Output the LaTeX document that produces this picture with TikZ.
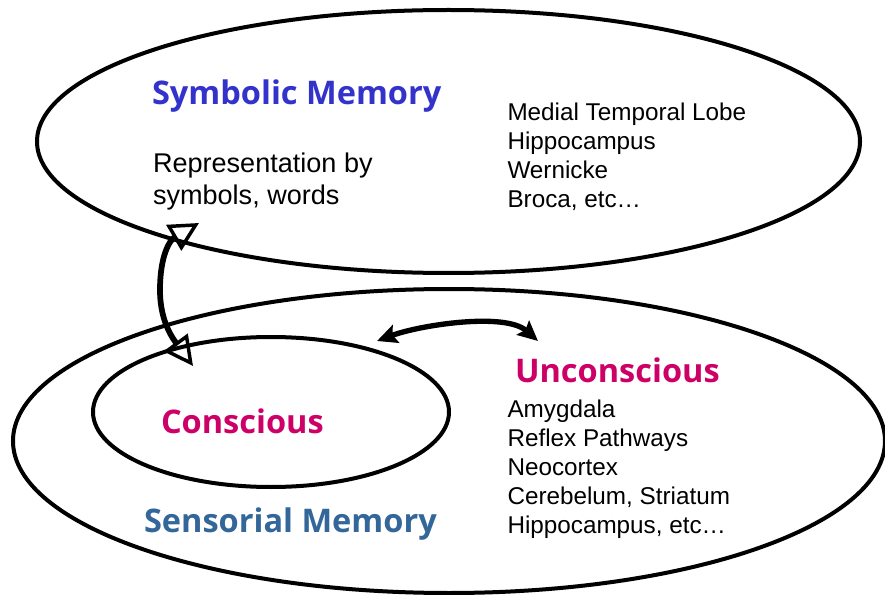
\documentclass[tikz,border=0pt]{standalone}
\usepackage{fontspec}
\setmainfont{Liberation Sans}
\newfontfamily\headfont{Open Sans}
\usepackage{xcolor}
\usetikzlibrary{arrows.meta}
\definecolor{symbblue}{HTML}{3333CC}
\definecolor{consred}{HTML}{CC0066}
\definecolor{sensblue}{HTML}{336699}
\tikzset{
	lista/.style={anchor=north west,inner sep=0pt,align=left,font=\fontsize{18.2}{21.75}\selectfont},
	titolo/.style={anchor=base west,inner sep=0pt,font=\headfont\bfseries\fontsize{24.4}{28}\selectfont},
	frecciaaperta/.style={line width=4.3pt,{Triangle[open,length=22pt 0,width=22pt 0,line width=2.6pt]}-{Triangle[open,length=22pt 0,width=22pt 0,line width=2.6pt]}},
	frecciapiena/.style={line width=4pt,{Stealth[length=15pt 0,width=14pt 0,inset=2.5pt]}-{Stealth[length=15pt 0,width=14pt 0,inset=2.5pt]}}
}
\begin{document}
\begin{tikzpicture}[x=0.75pt,y=-0.75pt,line width=3pt]
	\useasboundingbox (0,0) rectangle (885,595);
	\draw (448.5,141.5) ellipse (411.5 and 131.5);
	\draw (449,441) ellipse (436 and 152);
	\draw (271,412) ellipse (178 and 75);
	\node[titolo,text=symbblue] (symb) at (150,105) {Symbolic Memory};
	\node[lista,font=\fontsize{20.3}{23.8}\selectfont] (rappr) at (151,151) {Representation by\\symbols, words};
	\node[lista] (aree) at (505.5,101) {Medial Temporal Lobe\\Hippocampus\\Wernicke\\Broca, etc…};
	\node[titolo,text=consred] (incons) at (513,382.7) {Unconscious};
	\node[lista] (aree2) at (505.5,398) {Amygdala\\Reflex Pathways\\Neocortex\\Cerebelum, Striatum\\Hippocampus, etc…};
	\node[titolo,text=consred] (cons) at (159,433.5) {Conscious};
	\node[titolo,text=sensblue] (sens) at (142,532.5) {Sensorial Memory};
	\coordinate (a) at (193,366);
	\coordinate (b) at (199,223);
	\coordinate (c) at (377,341);
	\coordinate (d) at (538,341);
	\draw[frecciaaperta] (a) .. controls (168,332) and (160,315) .. (160,290) .. controls (160,255) and (170,240) .. (b);
	\draw[frecciapiena] (c) .. controls (420,325) and (505,312) .. (d);
\end{tikzpicture}
\end{document}
